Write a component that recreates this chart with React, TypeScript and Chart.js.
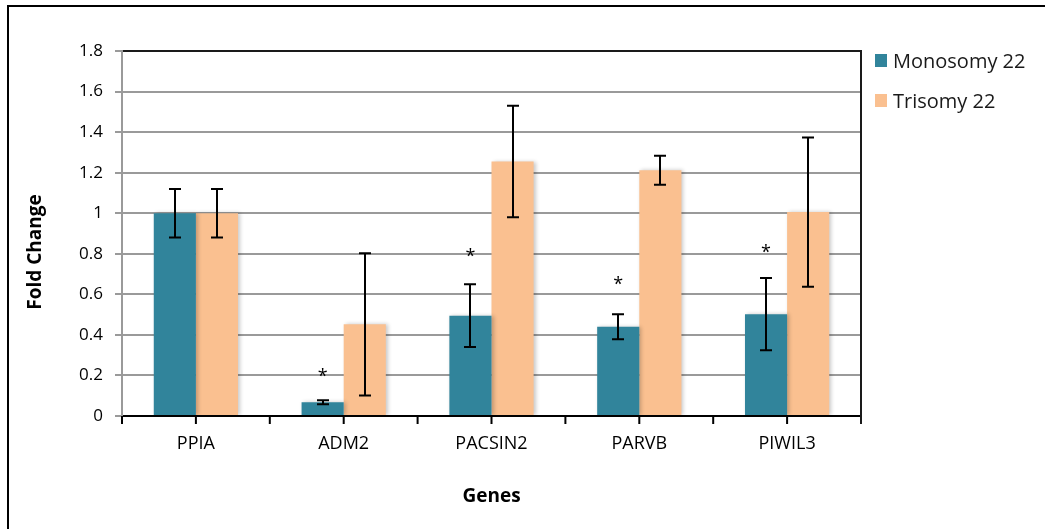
import React, { useEffect, useRef } from "react";
import { Chart, registerables } from "chart.js";

Chart.register(...registerables);

const genes = ["PPIA", "ADM2", "PACSIN2", "PARVB", "PIWIL3"];
const monosomy = [1.0, 0.068, 0.495, 0.44, 0.502];
const monosomyErr = [0.12, 0.01, 0.155, 0.062, 0.178];
const trisomy = [1.0, 0.452, 1.255, 1.212, 1.006];
const trisomyErr = [0.12, 0.351, 0.275, 0.072, 0.368];
const starHeights: (number | null)[] = [null, 0.21, 0.8, 0.66, 0.82];
const yTicks = [0, 0.2, 0.4, 0.6, 0.8, 1, 1.2, 1.4, 1.6, 1.8];
const yTitle = "Fold Change";
const xTitle = "Genes";

const MONO_COLOR = "#31849B";
const TRI_COLOR = "#FAC090";
const FONT = "'Open Sans', 'DejaVu Sans', sans-serif";

const decorPlugin = {
  id: "decor",
  beforeDatasetsDraw(chart: any) {
    const ctx = chart.ctx;
    ctx.save();
    ctx.shadowColor = "rgba(0,0,0,0.22)";
    ctx.shadowBlur = 4;
    ctx.shadowOffsetX = 2;
    ctx.shadowOffsetY = 0;
  },
  afterDatasetsDraw(chart: any) {
    const ctx = chart.ctx;
    ctx.restore();
    const y = chart.scales.y;
    const x = chart.scales.x;
    const area = chart.chartArea;
    const errs = [monosomyErr, trisomyErr];
    const vals = [monosomy, trisomy];
    ctx.save();
    ctx.strokeStyle = "#000";
    ctx.lineWidth = 2;
    [0, 1].forEach((d) => {
      const meta = chart.getDatasetMeta(d);
      meta.data.forEach((bar: any, i: number) => {
        const v = vals[d][i];
        const e = errs[d][i];
        const top = y.getPixelForValue(v + e);
        const bot = y.getPixelForValue(v - e);
        const cx = Math.round(bar.x);
        ctx.beginPath();
        ctx.moveTo(cx, top);
        ctx.lineTo(cx, bot);
        ctx.moveTo(cx - 6, top);
        ctx.lineTo(cx + 6, top);
        ctx.moveTo(cx - 6, bot);
        ctx.lineTo(cx + 6, bot);
        ctx.stroke();
      });
    });
    // significance stars
    ctx.fillStyle = "#000";
    ctx.font = `18px ${FONT}`;
    ctx.textAlign = "center";
    ctx.textBaseline = "middle";
    const mMeta = chart.getDatasetMeta(0);
    starHeights.forEach((s, i) => {
      if (s == null) return;
      ctx.fillText("*", mMeta.data[i].x, y.getPixelForValue(s) + 3);
    });
    // plot frame: right border
    ctx.beginPath();
    ctx.lineWidth = 2;
    ctx.strokeStyle = "#1a1a1a";
    ctx.moveTo(area.right, area.top - 1);
    ctx.lineTo(area.right, area.bottom + 8);
    ctx.stroke();
    // x-axis tick marks at category centres and boundaries
    ctx.beginPath();
    ctx.strokeStyle = "#000";
    ctx.lineWidth = 2;
    const half = (x.getPixelForValue(1) - x.getPixelForValue(0)) / 2;
    for (let i = 0; i < genes.length; i++) {
      const c = x.getPixelForValue(i);
      [c - half, c].forEach((px) => {
        ctx.moveTo(px, area.bottom);
        ctx.lineTo(px, area.bottom + 8);
      });
    }
    ctx.stroke();
    // y-axis title
    ctx.translate(36, 252);
    ctx.rotate(-Math.PI / 2);
    ctx.font = `bold 19px ${FONT}`;
    ctx.fillStyle = "#000";
    ctx.textAlign = "center";
    ctx.textBaseline = "middle";
    ctx.fillText(yTitle, 0, 0);
    ctx.restore();
  },
};

export default function App() {
  const ref = useRef<HTMLCanvasElement | null>(null);
  useEffect(() => {
    if (!ref.current) return;
    const chart = new Chart(ref.current, {
      type: "bar",
      data: {
        labels: genes,
        datasets: [
          {
            label: "Monosomy 22",
            data: monosomy,
            backgroundColor: MONO_COLOR,
            borderWidth: 0,
            categoryPercentage: 0.57,
            barPercentage: 1.0,
          },
          {
            label: "Trisomy 22",
            data: trisomy,
            backgroundColor: TRI_COLOR,
            borderWidth: 0,
            categoryPercentage: 0.57,
            barPercentage: 1.0,
          },
        ],
      },
      options: {
        responsive: false,
        animation: false,
        layout: { padding: { left: 10, top: 51, right: 184, bottom: 0 } },
        plugins: { legend: { display: false }, tooltip: { enabled: false } },
        scales: {
          x: {
            afterFit: (s: any) => {
              s.height = 113;
            },
            grid: { display: false, drawOnChartArea: false, drawTicks: false },
            border: { display: true, color: "#000", width: 2 },
            ticks: {
              color: "#000",
              font: { family: FONT, size: 18 },
              padding: 17,
            },
            title: {
              display: true,
              text: xTitle,
              color: "#000",
              font: { family: FONT, size: 19, weight: "bold" },
              padding: { top: 0, bottom: 21 },
            },
          },
          y: {
            min: 0,
            max: 1.8,
            afterFit: (s: any) => {
              s.width = 112;
            },
            afterBuildTicks: (s: any) => {
              s.ticks = yTicks.map((v) => ({ value: v }));
            },
            ticks: {
              color: "#000",
              font: { family: FONT, size: 17 },
              padding: 12,
              callback: (v: any) => String(Number(v)),
            },
            grid: {
              color: (c: any) => (c.tick && c.tick.value === 1.8 ? "#1a1a1a" : "#9a9a9a"),
              lineWidth: 2,
              tickLength: 7,
              tickColor: "#9a9a9a",
            },
            border: { display: true, color: "#9a9a9a", width: 2 },
            title: { display: false },
          },
        },
      },
      plugins: [decorPlugin],
    } as any);
    return () => chart.destroy();
  }, []);

  const legendItem = (color: string, text: string, top: number) => (
    <div
      style={{
        position: "absolute",
        left: 875,
        top,
        height: 24,
        display: "flex",
        alignItems: "center",
        fontFamily: FONT,
        fontSize: 20,
        color: "#1a1a1a",
        whiteSpace: "nowrap",
      }}
    >
      <span
        style={{
          display: "inline-block",
          width: 12,
          height: 13,
          background: color,
          marginRight: 6,
        }}
      />
      {text}
    </div>
  );

  return (
    <div
      style={{
        position: "absolute",
        left: 0,
        top: 0,
        width: 1045,
        height: 529,
        background: "#fff",
        overflow: "hidden",
      }}
    >
      <canvas
        ref={ref}
        width={1045}
        height={529}
        style={{ position: "absolute", left: 0, top: 0, width: 1045, height: 529 }}
      />
      <div
        style={{
          position: "absolute",
          left: 7,
          top: 5,
          width: 1100,
          height: 600,
          border: "2px solid #000",
          boxSizing: "border-box",
          pointerEvents: "none",
        }}
      />
      {legendItem(MONO_COLOR, "Monosomy 22", 48)}
      {legendItem(TRI_COLOR, "Trisomy 22", 88)}
    </div>
  );
}
